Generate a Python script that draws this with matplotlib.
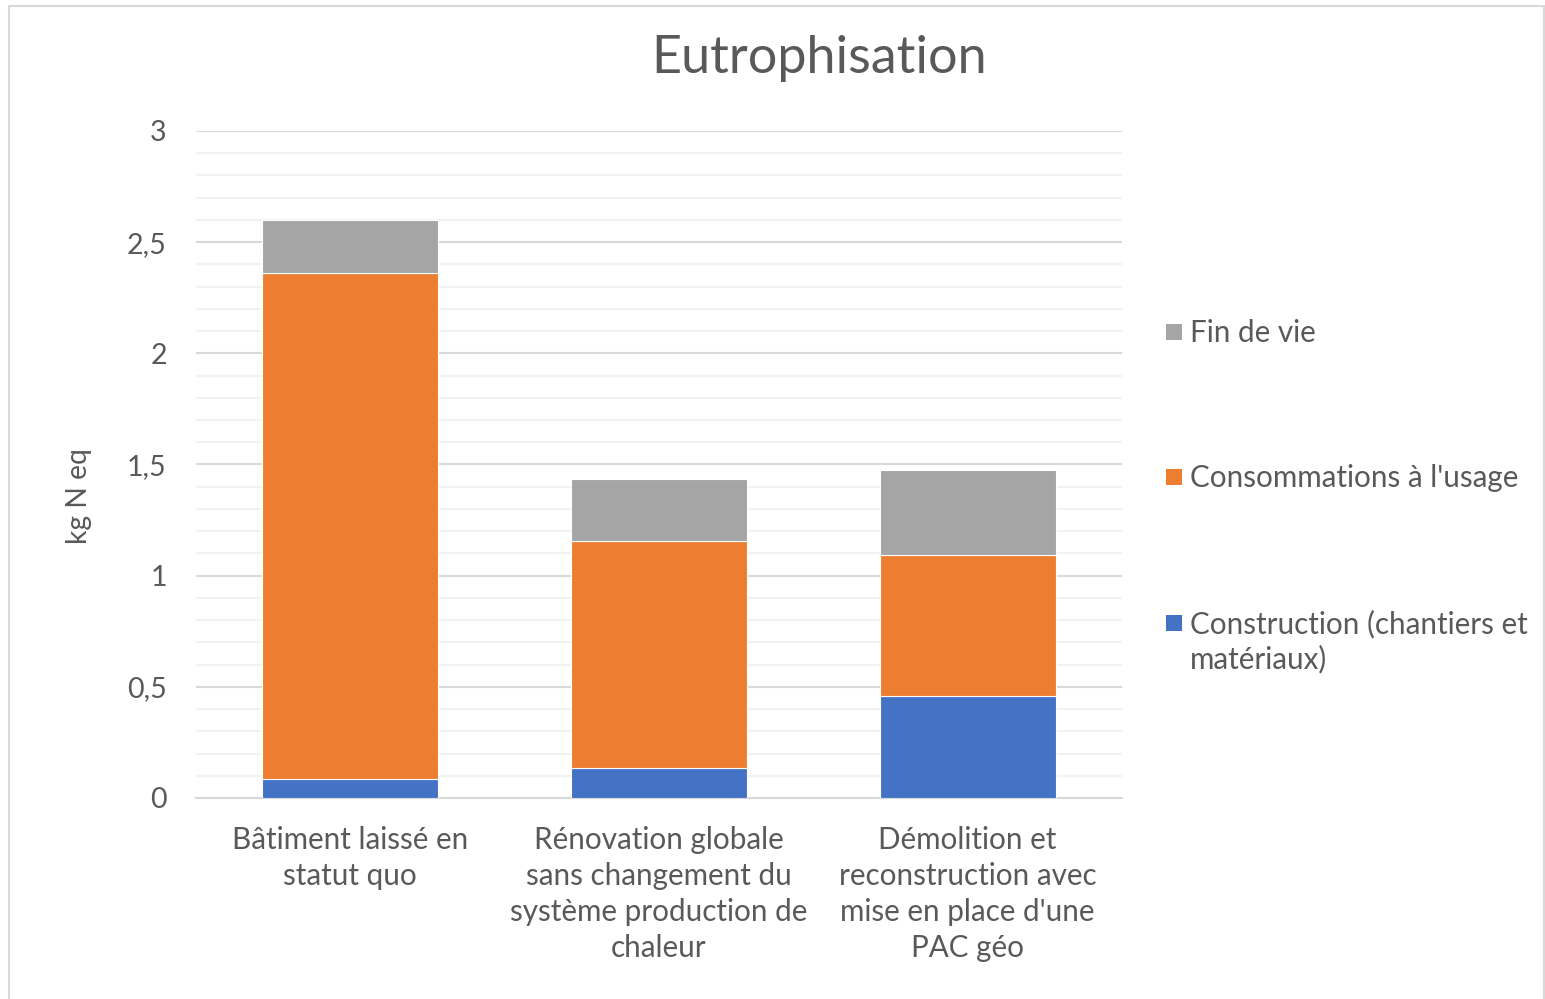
import numpy as np
import matplotlib
matplotlib.use("Agg")
from matplotlib import pyplot as plt
from matplotlib.patches import Rectangle
from matplotlib.ticker import MultipleLocator, FuncFormatter

# scenario labels and impact per life-cycle phase (kg N eq)
scenarios = ["Bâtiment laissé en\nstatut quo",
             "Rénovation globale\nsans changement du\nsystème production de\nchaleur",
             "Démolition et\nreconstruction avec\nmise en place d'une\nPAC géo"]
construction = [0.085, 0.135, 0.46]
consommations = [2.275, 1.02, 0.635]
fin_de_vie = [0.24, 0.28, 0.38]

series_names = ["Construction (chantiers et\nmatériaux)", "Consommations à l'usage", "Fin de vie"]
series_colors = ["#4472C4", "#ED7D31", "#A5A5A5"]

text_col = "#595959"
plt.rcParams['font.family'] = ['Lato', 'DejaVu Sans']

W, H = 1545, 999
fig = plt.figure(figsize=(W / 100, H / 100), dpi=100)
ax = fig.add_axes([196 / W, 1 - 798 / H, 926 / W, 667 / H])


def fx(px):
    return px / W


def fy(py):
    return 1 - py / H


x = np.arange(len(scenarios))
bottom = np.zeros(len(scenarios))
for vals, name, col in zip([construction, consommations, fin_de_vie], series_names, series_colors):
    ax.bar(x, vals, 0.57, bottom=bottom, color=col, label=name,
           edgecolor="white", linewidth=0.8, zorder=3)
    bottom += np.array(vals)

ax.set_xlim(-0.5, 2.5)
ax.set_ylim(0, 3)
ax.yaxis.set_major_locator(MultipleLocator(0.5))
ax.yaxis.set_minor_locator(MultipleLocator(0.1))
ax.yaxis.set_major_formatter(FuncFormatter(lambda v, p: ("%g" % v).replace(".", ",")))
ax.grid(which="major", axis="y", color="#D9D9D9", linewidth=1.5, zorder=1)
ax.grid(which="minor", axis="y", color="#F2F2F2", linewidth=1.5, zorder=0)
ax.set_xticks(x)
ax.set_xticklabels(scenarios, fontsize=21.3, color=text_col, linespacing=1.34)
ax.tick_params(axis="x", length=0, pad=20.5)
ax.tick_params(axis="y", which="both", length=0, pad=21, labelsize=20.5, labelcolor=text_col)
for s in ["top", "right", "left"]:
    ax.spines[s].set_visible(False)
ax.spines["bottom"].set_color("#D9D9D9")
ax.spines["bottom"].set_linewidth(1.5)

ax.set_ylabel("kg N eq", fontsize=20.3, color=text_col)
ax.yaxis.set_label_coords(-0.112, 0.453)

fig.text(fx(819), fy(73), "Eutrophisation", fontsize=37.5, color=text_col,
         ha="center", va="baseline")

# legend, top entry first; each line of a label sits on its own baseline
legend_baselines = [633, 487, 342]
for name, col, base in zip(series_names, series_colors, legend_baselines):
    fig.add_artist(Rectangle((fx(1166), fy(base - 2)), 16 / W, 16 / H,
                             transform=fig.transFigure, facecolor=col,
                             edgecolor="none"))
    for k, line in enumerate(name.split("\n")):
        fig.text(fx(1190), fy(base + 35 * k), line, fontsize=21.3,
                 color=text_col, ha="left", va="baseline")

# chart border
fig.add_artist(Rectangle((fx(9), -0.02), fx(1535), 1.02 - 6 / H,
                         transform=fig.transFigure, fill=False,
                         edgecolor="#D9D9D9", linewidth=1.5))

fig.savefig("out.png", dpi=100, facecolor="white")
